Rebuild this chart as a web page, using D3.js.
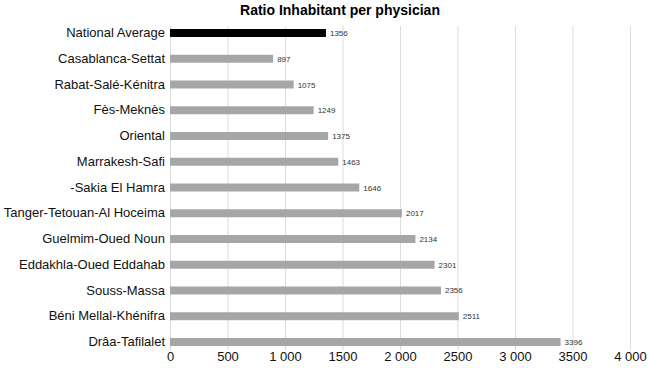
<!DOCTYPE html>
<html>
<head>
<meta charset="utf-8">
<script src="https://cdn.jsdelivr.net/npm/d3@7"></script>
<style>
body { margin: 0; background: #fff; }
text { font-family: "Liberation Sans", Arial, sans-serif; }
</style>
</head>
<body>
<div id="chart"></div>
<script>
var width = 650;
var height = 368;

// regions, top to bottom
var regions = ["National Average", "Casablanca-Settat", "Rabat-Salé-Kénitra", "Fès-Meknès",
  "Oriental", "Marrakesh-Safi", "-Sakia El Hamra", "Tanger-Tetouan-Al Hoceima",
  "Guelmim-Oued Noun", "Eddakhla-Oued Eddahab", "Souss-Massa", "Béni Mellal-Khénifra", "Drâa-Tafilalet"];
var ratios = [1356, 897, 1075, 1249, 1375, 1463, 1646, 2017, 2134, 2301, 2356, 2511, 3396];
var tickValues = [0, 500, 1000, 1500, 2000, 2500, 3000, 3500, 4000];
var tickLabels = ["0", "500", "1 000", "1500", "2 000", "2500", "3 000", "3500", "4 000"];

var svg = d3.select("#chart").append("svg")
  .attr("width", width)
  .attr("height", height);

var x = d3.scaleLinear()
  .domain([0, 4000])
  .range([170, 630]);

var y = d3.scaleBand()
  .domain(regions)
  .range([20, 355])
  .paddingInner(0.69)
  .paddingOuter(0.35);

// title
svg.append("text")
  .attr("x", 340)
  .attr("y", 15)
  .attr("text-anchor", "middle")
  .attr("font-size", "14px")
  .attr("font-weight", "bold")
  .text("Ratio Inhabitant per physician");

// gridlines
svg.append("g")
  .selectAll("line")
  .data(tickValues)
  .enter().append("line")
  .attr("x1", function(d) { return x(d) + 0.5; })
  .attr("x2", function(d) { return x(d) + 0.5; })
  .attr("y1", 26)
  .attr("y2", 350)
  .attr("stroke", "#dcdcdc")
  .attr("stroke-width", 1);

// bars
svg.append("g")
  .selectAll("rect")
  .data(ratios)
  .enter().append("rect")
  .attr("x", x(0))
  .attr("y", function(d, i) { return y(regions[i]); })
  .attr("width", function(d) { return x(d) - x(0); })
  .attr("height", y.bandwidth())
  .attr("fill", function(d, i) { return i == 0 ? "#000" : "#a6a6a6"; });

// value labels
svg.append("g")
  .selectAll("text")
  .data(ratios)
  .enter().append("text")
  .attr("x", function(d) { return x(d) + 4; })
  .attr("y", function(d, i) { return y(regions[i]) + y.bandwidth() / 2 + 3; })
  .attr("font-size", "8px")
  .attr("fill", "#333")
  .text(function(d) { return d; });

// category labels
var yAxis = svg.append("g")
  .attr("transform", "translate(165,0)")
  .call(d3.axisLeft(y).tickSize(0).tickPadding(0));
yAxis.select(".domain").remove();
yAxis.selectAll("text")
  .attr("font-size", "13px")
  .attr("fill", "#111")
  .style("font-family", "'Liberation Sans', Arial, sans-serif");

// x axis
var xAxis = svg.append("g")
  .attr("transform", "translate(0,350)")
  .call(d3.axisBottom(x)
    .tickValues(tickValues)
    .tickSize(0)
    .tickPadding(2)
    .tickFormat(function(d, i) { return tickLabels[i]; }));
xAxis.select(".domain").remove();
xAxis.selectAll("text")
  .attr("font-size", "13px")
  .attr("fill", "#111")
  .style("font-family", "'Liberation Sans', Arial, sans-serif");
</script>
</body>
</html>
